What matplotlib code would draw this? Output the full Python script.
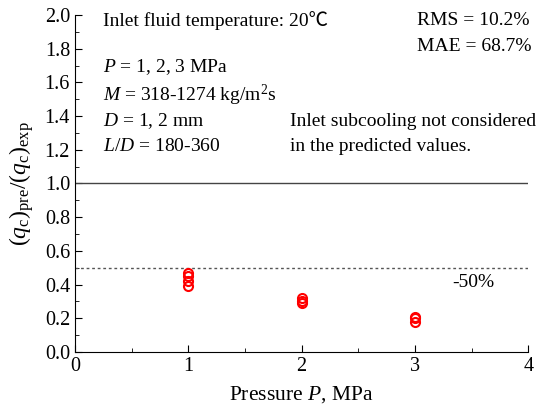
import numpy as np
import matplotlib.pyplot as plt
from matplotlib.ticker import MultipleLocator

plt.rcParams['font.family'] = ['Liberation Serif', 'Noto Sans CJK SC', 'DejaVu Serif']
plt.rcParams['mathtext.fontset'] = 'custom'
plt.rcParams['mathtext.rm'] = 'Liberation Serif'
plt.rcParams['mathtext.it'] = 'Liberation Serif:italic'
plt.rcParams['font.size'] = 14

# predicted / experimental CHF ratio at each pressure
pressure = [1, 1, 1, 1, 2, 2, 2, 3, 3, 3]
ratio = [0.47, 0.45, 0.42, 0.39, 0.32, 0.30, 0.29, 0.21, 0.20, 0.18]

fig = plt.figure(figsize=(5.39, 4.11), dpi=100)
ax = fig.add_axes([0.139, 0.1436, 0.841, 0.82])

ax.axhline(1.0, color='#444444', lw=1.0)
ax.axhline(0.5, color='#555555', lw=1.0, ls=(0, (2, 2)))
ax.plot(pressure, ratio, 'o', mfc='none', mec='red', mew=1.5, ms=6.5, ls='none')

ax.set_xlim(0, 4)
ax.set_ylim(0, 2.0)
ax.xaxis.set_major_locator(MultipleLocator(1))
ax.xaxis.set_minor_locator(MultipleLocator(0.5))
ax.yaxis.set_major_locator(MultipleLocator(0.2))
ax.yaxis.set_minor_locator(MultipleLocator(0.1))
ax.yaxis.set_major_formatter(plt.FormatStrFormatter('%.1f'))
ax.tick_params(which='both', direction='in', top=False, right=False, labelsize=14.5)
ax.tick_params(which='major', length=5)
ax.tick_params(which='minor', length=3)
for s in ['top', 'right']:
    ax.spines[s].set_visible(False)

ax.set_xlabel('Pressure $P$, MPa', fontsize=15.5, labelpad=6)
ax.set_ylabel(r'$(q_{\rm c})_{\rm pre}/(q_{\rm c})_{\rm exp}$', fontsize=17, labelpad=6)

kw = dict(ha='left', va='center', fontsize=14)
ax.text(0.25, 1.97, 'Inlet fluid temperature: 20℃', **kw)
ax.text(0.25, 1.69, '$P$ = 1, 2, 3 MPa', **kw)
ax.text(0.25, 1.525, '$M$ = 318-1274 kg/m$^2$s', **kw)
ax.text(0.25, 1.37, '$D$ = 1, 2 mm', **kw)
ax.text(0.25, 1.22, '$L/D$ = 180-360', **kw)
ax.text(3.02, 1.97, 'RMS = 10.2%', **kw)
ax.text(3.02, 1.815, 'MAE = 68.7%', **kw)
ax.text(1.90, 1.37, 'Inlet subcooling not considered', **kw)
ax.text(1.90, 1.22, 'in the predicted values.', **kw)
ax.text(3.33, 0.415, '-50%', **kw)

fig.savefig('out.png', dpi=100)
